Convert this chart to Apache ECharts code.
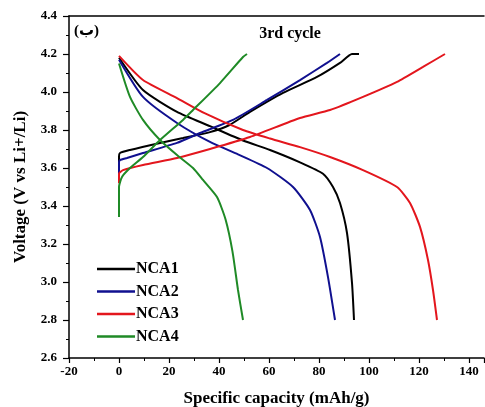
<!DOCTYPE html>
<html>
<head>
<meta charset="utf-8">
<script src="https://cdn.jsdelivr.net/npm/echarts@6/dist/echarts.min.js"></script>
<style>
  html, body { margin: 0; padding: 0; background: #fff; }
  #chart { width: 485px; height: 407px; }
</style>
</head>
<body>
<div id="chart"></div>
<script>
// charge curve then discharge curve for each sample, [capacity, voltage]
const nca1Charge = [[0, 3.6], [0, 3.66], [0.4, 3.679], [4.4, 3.695], [16.4, 3.732], [25.6, 3.758], [36.4, 3.789], [44, 3.825], [52.4, 3.895], [65.6, 3.995], [79.2, 4.079], [88.4, 4.153], [93.2, 4.2], [96, 4.2]];
const nca1Discharge = [[0, 4.18], [9.6, 4.01], [23.2, 3.895], [36.4, 3.82], [49.6, 3.745], [60.4, 3.695], [72.4, 3.63], [81.6, 3.57], [85.6, 3.5], [88.4, 3.416], [91.2, 3.258], [93.2, 2.995], [94, 2.8]];
const nca2Charge = [[0, 3.56], [0, 3.63], [0.4, 3.642], [3.2, 3.653], [9.6, 3.679], [23.2, 3.732], [32.4, 3.784], [45.6, 3.853], [59.2, 3.958], [72.4, 4.063], [83.2, 4.153], [88.4, 4.2]];
const nca2Discharge = [[0, 4.17], [9.6, 3.974], [23.2, 3.837], [36.4, 3.737], [47.6, 3.672], [59.2, 3.6], [69.6, 3.5], [76.4, 3.379], [80.4, 3.237], [83.6, 3.026], [86.4, 2.8]];
const nca3Charge = [[0, 3.52], [0, 3.57], [1.6, 3.589], [9.6, 3.616], [23.2, 3.653], [36.4, 3.7], [52.4, 3.763], [72.4, 3.863], [84.4, 3.905], [97.6, 3.974], [111.2, 4.053], [121.6, 4.132], [130.4, 4.2]];
const nca3Discharge = [[0, 4.19], [9.6, 4.063], [23.2, 3.968], [34, 3.89], [49.6, 3.8], [60.4, 3.755], [72.4, 3.71], [84.4, 3.658], [97.6, 3.589], [111.2, 3.5], [116.4, 3.416], [120.4, 3.29], [123.6, 3.116], [125.6, 2.958], [127.2, 2.8]];
const nca4Charge = [[0, 3.342], [0, 3.5], [1.2, 3.553], [4.4, 3.6], [9.6, 3.658], [16.4, 3.747], [25.6, 3.853], [29.6, 3.905], [40.4, 4.047], [49.6, 4.184], [51.2, 4.2]];
const nca4Discharge = [[0, 4.15], [4.4, 3.974], [9.6, 3.853], [16.4, 3.747], [23.2, 3.668], [29.6, 3.6], [33.6, 3.537], [39.2, 3.447], [42.6, 3.33], [45.4, 3.16], [47.6, 2.958], [49.6, 2.8]];

const names = ['NCA1', 'NCA2', 'NCA3', 'NCA4'];
const colors = ['#000000', '#10108f', '#e3161d', '#1f8a26'];
const curves = [
  [nca1Charge, nca1Discharge],
  [nca2Charge, nca2Discharge],
  [nca3Charge, nca3Discharge],
  [nca4Charge, nca4Discharge]
];

const font = 'Liberation Serif';
const chart = echarts.init(document.getElementById('chart'));

const option = {
  animation: false,
  grid: { left: 69, right: 1, top: 16, bottom: 49, outerBoundsMode: 'none' },
  title: {
    text: '3rd cycle',
    left: 285, top: 21, textAlign: 'center',
    textStyle: { fontFamily: font, fontWeight: 'bold', fontSize: 16, color: '#000' }
  },
  graphic: [{
    type: 'text', left: 74, top: 24,
    style: { text: '(ب)', fontFamily: font + ', DejaVu Sans', fontWeight: 'bold', fontSize: 15, fill: '#000' }
  }],
  legend: {
    orient: 'vertical', left: 92, top: 256,
    icon: 'rect', itemWidth: 38, itemHeight: 2.5, itemGap: 6.5,
    data: names,
    textStyle: { fontFamily: font, fontWeight: 'bold', fontSize: 16, color: '#000', padding: [0, 0, 0, -4] }
  },
  xAxis: [{
    type: 'value', min: -20, max: 146, interval: 20,
    name: 'Specific capacity (mAh/g)', nameLocation: 'middle', nameGap: 32,
    nameTextStyle: { fontFamily: font, fontWeight: 'bold', fontSize: 17, color: '#000' },
    axisLine: { onZero: false, lineStyle: { color: '#000', width: 1.5 } },
    axisTick: { length: 5, lineStyle: { color: '#000', width: 1.2 } },
    minorTick: { show: true, splitNumber: 2, length: 3, lineStyle: { color: '#000' } },
    axisLabel: { showMaxLabel: false, fontFamily: font, fontWeight: 'bold', fontSize: 13, color: '#000', margin: 7 },
    splitLine: { show: false }
  }, {
    type: 'value', position: 'top', min: -20, max: 146,
    axisLine: { show: true, onZero: false, lineStyle: { color: '#000', width: 1.5 } },
    axisTick: { show: false }, axisLabel: { show: false }, splitLine: { show: false }
  }],
  yAxis: {
    type: 'value', min: 2.6, max: 4.4, interval: 0.2,
    name: 'Voltage (V vs Li+/Li)', nameLocation: 'middle', nameGap: 40,
    nameTextStyle: { fontFamily: font, fontWeight: 'bold', fontSize: 17, color: '#000' },
    axisLine: { show: true, onZero: false, lineStyle: { color: '#000', width: 1.5 } },
    axisTick: { show: true, length: 6, lineStyle: { color: '#000', width: 1.2 } },
    minorTick: { show: true, splitNumber: 2, length: 3, lineStyle: { color: '#000' } },
    axisLabel: { fontFamily: font, fontWeight: 'bold', fontSize: 13, color: '#000', margin: 12,
      formatter: v => v.toFixed(1) },
    splitLine: { show: false }
  },
  series: names.map((n, i) => ({
    name: n, type: 'line', symbol: 'none', smooth: 0.2,
    connectNulls: false,
    lineStyle: { color: colors[i], width: 2 },
    itemStyle: { color: colors[i] },
    data: [].concat(curves[i][0], ['-'], curves[i][1])
  }))
};

chart.setOption(option);
</script>
</body>
</html>
